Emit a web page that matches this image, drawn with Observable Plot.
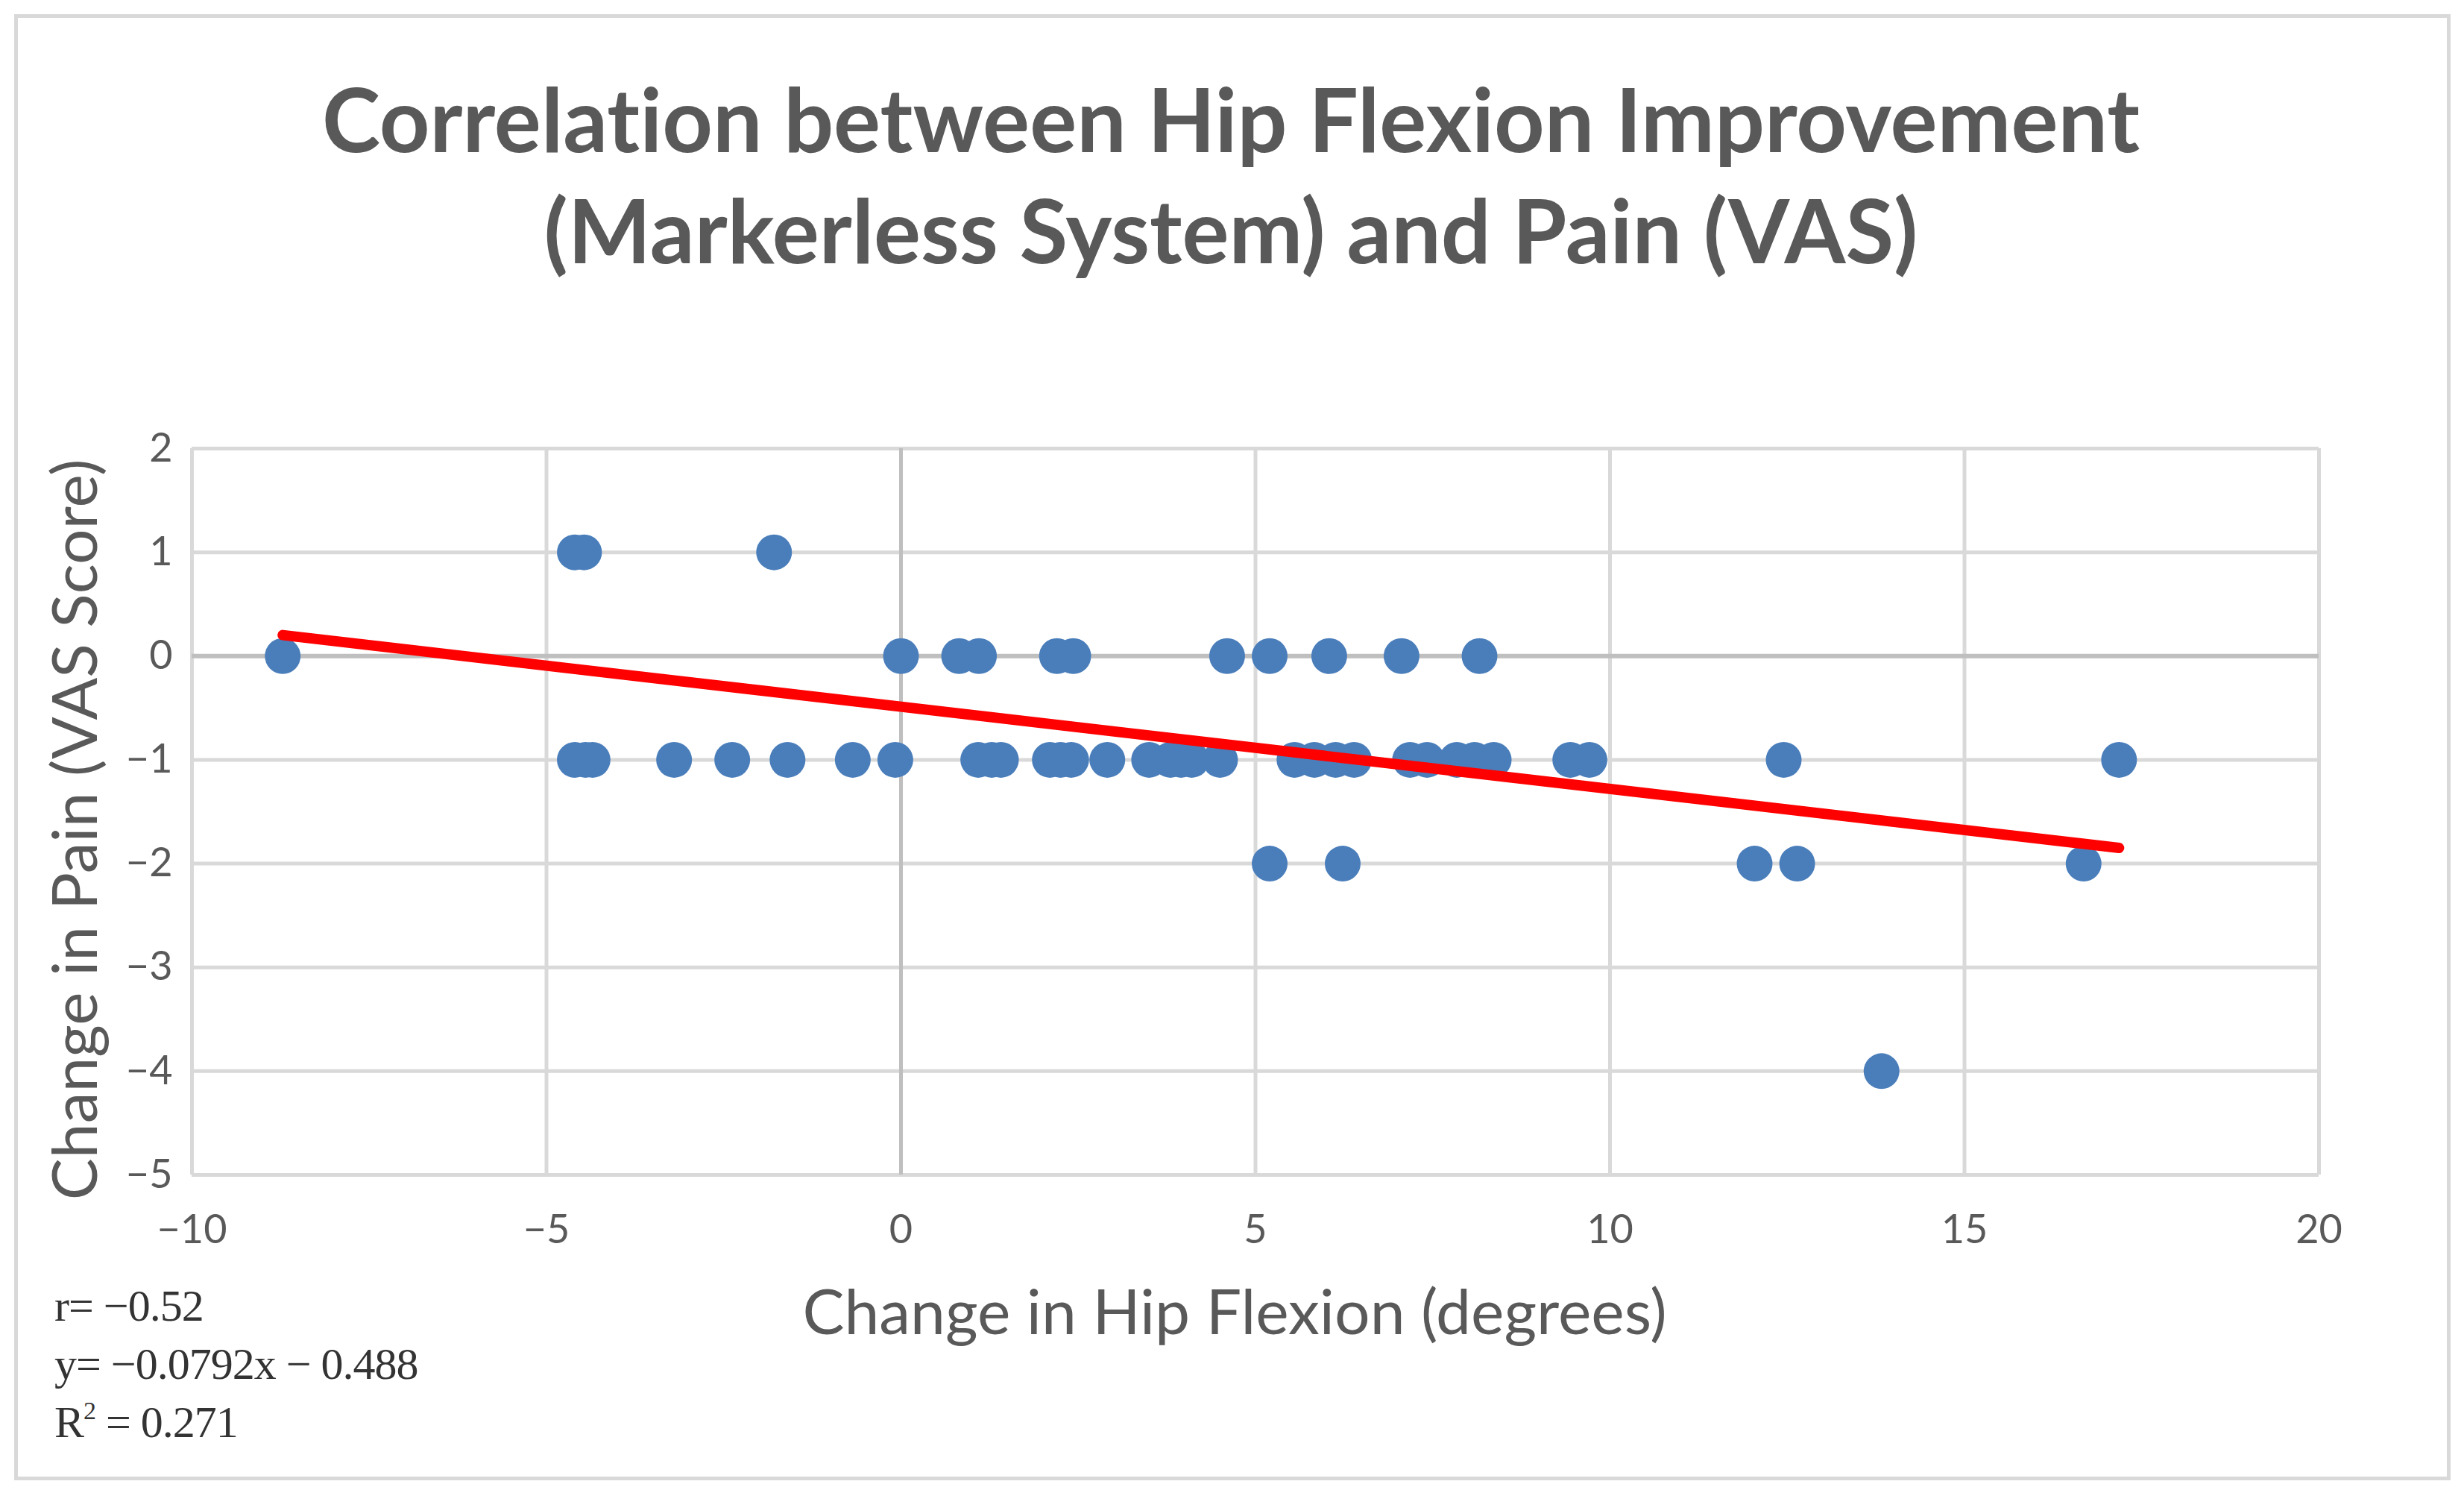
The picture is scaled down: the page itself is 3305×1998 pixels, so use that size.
<!DOCTYPE html>
<html>
<head>
<meta charset="utf-8">
<script src="https://cdn.jsdelivr.net/npm/d3@7"></script>
<script src="https://cdn.jsdelivr.net/npm/@observablehq/plot@0.6"></script>
<style>
  html, body { margin: 0; padding: 0; background: #ffffff; }
  #wrap { position: relative; width: 3305px; height: 1998px; background: #ffffff; overflow: hidden; }
  #border { position: absolute; left: 19px; top: 19px; width: 3258px; height: 1956px; border: 5px solid #d9d9d9; }
  #title { position: absolute; left: 0; top: 84px; width: 3302px; text-align: center;
           font-family: Lato, sans-serif; font-weight: 700; font-size: 118px; line-height: 149px; color: #595959;
           font-variant-ligatures: none; font-feature-settings: "liga" 0; }
  #chart { position: absolute; left: 0; top: 420px; }
  #chart svg text { font-variant-ligatures: none; }
  #stats { position: absolute; left: 73px; top: 1712px; font-family: "Liberation Serif", serif;
           font-size: 60px; line-height: 78px; color: #333333; letter-spacing: -1px; }
  #stats sup { font-size: 34px; vertical-align: 0; position: relative; top: -24px; }
</style>
</head>
<body>
<div id="wrap">
  <div id="border"></div>
  <div id="title"></div>
  <div id="chart"></div>
  <div id="stats"></div>
</div>
<script>
// ---- Data ----
const titleLines = ["Correlation between Hip Flexion Improvement", "(Markerless System) and Pain (VAS)"];
const xLabel = "Change in Hip Flexion (degrees)";
const yLabel = "Change in Pain (VAS Score)";
const xTicks = [-10, -5, 0, 5, 10, 15, 20];
const yTicks = [2, 1, 0, -1, -2, -3, -4, -5];

// change in hip flexion (degrees) for each patient
const hipFlexionChange = [
  // VAS +1
  -4.6, -4.47, -1.79,
  // VAS 0
  -8.72, 0.0, 0.82, 1.10, 2.20, 2.43, 4.60, 5.20, 6.04, 7.06, 8.16,
  // VAS -1
  -4.6, -4.45, -4.35, -3.2, -2.38, -1.6, -0.68, -0.08, 1.09, 1.28, 1.41, 2.1, 2.25, 2.4, 2.91,
  3.5, 3.8, 3.95, 4.1, 4.5, 5.55, 5.83, 6.13, 6.39, 7.18, 7.42, 7.84, 8.09, 8.36, 9.44, 9.71,
  12.45, 17.18,
  // VAS -2
  5.2, 6.23, 12.04, 12.64, 16.68,
  // VAS -4
  13.83
];
// change in pain (VAS score), same order
const painChange = [
  1, 1, 1,
  0, 0, 0, 0, 0, 0, 0, 0, 0, 0, 0,
  -1, -1, -1, -1, -1, -1, -1, -1, -1, -1, -1, -1, -1, -1, -1,
  -1, -1, -1, -1, -1, -1, -1, -1, -1, -1, -1, -1, -1, -1, -1, -1,
  -1, -1,
  -2, -2, -2, -2, -2,
  -4
];
// reported regression statistics
const statR = "−0.52";
const statSlope = -0.0792;
const statIntercept = -0.488;
const statR2 = "0.271";

// ---- Build tables ----
const points = hipFlexionChange.map((x, i) => ({x, y: painChange[i]}));
const xExtent = d3.extent(hipFlexionChange);
const trend = xExtent.map(x => ({x, y: statSlope * x + statIntercept}));
const fmt = d => (d < 0 ? "−" + Math.abs(d) : String(d));

// ---- Title & stats ----
document.getElementById("title").innerHTML = titleLines.join("<br>");
document.getElementById("stats").innerHTML =
  `r= ${statR}<br>y= −${Math.abs(statSlope)}x − ${Math.abs(statIntercept)}<br>R<sup>2</sup> = ${statR2}`;

// ---- Chart ----
const W = 3305, H = 1578;
const chart = Plot.plot({
  width: W,
  height: H,
  marginLeft: 257,
  marginRight: 195,
  marginTop: 181,
  marginBottom: 423,
  style: {fontFamily: "Lato, sans-serif", background: "transparent", overflow: "visible"},
  x: {domain: [-10, 20]},
  y: {domain: [-5, 2]},
  marks: [
    Plot.ruleX(xTicks.filter(d => d !== 0), {stroke: "#d9d9d9", strokeWidth: 5}),
    Plot.ruleY(yTicks.filter(d => d !== 0), {stroke: "#d9d9d9", strokeWidth: 5}),
    Plot.ruleX(xTicks.filter(d => d === 0), {stroke: "#bfbfbf", strokeWidth: 5}),
    Plot.ruleY(yTicks.filter(d => d === 0), {stroke: "#bfbfbf", strokeWidth: 6}),
    Plot.axisX({ticks: xTicks, tickFormat: fmt, tickSize: 0, tickPadding: 53, fontSize: 54, fill: "#595959", label: null}),
    Plot.axisY({ticks: yTicks, tickFormat: fmt, tickSize: 0, tickPadding: 26, fontSize: 54, fill: "#595959", label: null}),
    Plot.dot(points, {x: "x", y: "y", r: 24, fill: "#4a7ebb", stroke: "none"}),
    Plot.line(trend, {x: "x", y: "y", stroke: "#ff0000", strokeWidth: 14, strokeLinecap: "round"}),
    Plot.text([xLabel], {text: d => d, frameAnchor: "bottom", dx: -28, dy: 187, fontSize: 84,
      fill: "#595959", textAnchor: "middle", lineAnchor: "middle"}),
    Plot.text([yLabel], {text: d => d, frameAnchor: "left", rotate: -90, dx: -154, dy: 24, fontSize: 84,
      fill: "#595959", textAnchor: "middle", lineAnchor: "middle"})
  ]
});
document.getElementById("chart").appendChild(chart);
</script>
</body>
</html>
